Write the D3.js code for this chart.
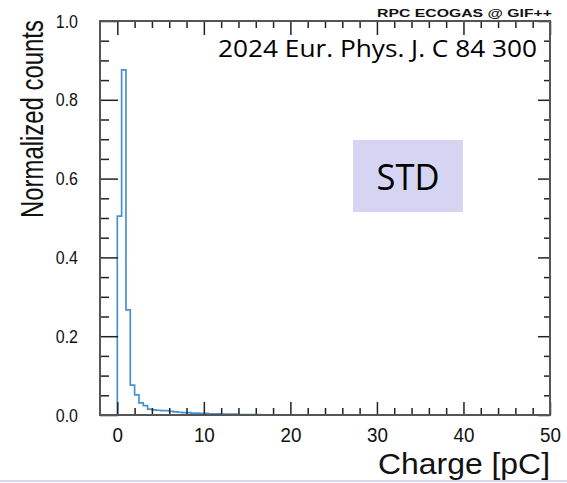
<!DOCTYPE html>
<html>
<head>
<meta charset="utf-8">
<script src="https://cdn.jsdelivr.net/npm/d3@7"></script>
<style>
  body { margin: 0; background: #fff; }
  svg { display: block; }
</style>
</head>
<body>
<svg id="chart" width="567" height="483"></svg>
<script>
/* histogram: left bin edges (pC) and normalized counts, bin width 0.5 pC */
var BIN_WIDTH = 0.5;
var BIN_EDGES = [0, 0.5, 1, 1.5, 2, 2.5, 3, 3.5, 4, 4.5, 5, 5.5, 6, 6.5, 7, 7.5, 8, 8.5, 9, 9.5,
                 10, 10.5, 11, 11.5, 12, 12.5, 13, 13.5, 14, 14.5, 15, 15.5, 16];
var COUNTS = [0.505, 0.876, 0.267, 0.076, 0.051, 0.031, 0.024, 0.015, 0.013, 0.012,
              0.011, 0.011, 0.009, 0.008, 0.007, 0.006, 0.006, 0.005, 0.005, 0.004,
              0.004, 0.003, 0.003, 0.003, 0.002, 0.002, 0.002, 0.002, 0.001, 0.001, 0.001, 0.001, 0.001];

var X_MAJOR = [0, 10, 20, 30, 40, 50];
var X_MINOR = [2, 4, 6, 8, 12, 14, 16, 18, 22, 24, 26, 28, 32, 34, 36, 38, 42, 44, 46, 48];
var Y_MAJOR = [0, 0.2, 0.4, 0.6, 0.8, 1.0];
var Y_MINOR = [0.05, 0.1, 0.15, 0.25, 0.3, 0.35, 0.45, 0.5, 0.55, 0.65, 0.7, 0.75, 0.85, 0.9, 0.95];

var X_TITLE = "Charge [pC]";
var Y_TITLE = "Normalized counts";
var REF_TEXT = "2024 Eur. Phys. J. C 84 300";
var TAG_TEXT = "RPC ECOGAS @ GIF++";
var BOX_TEXT = "STD";

var svg = d3.select("#chart");
var margin = {top: 21, right: 17, bottom: 68, left: 100};
var width = 567 - margin.left - margin.right;
var height = 483 - margin.top - margin.bottom;
var g = svg.append("g").attr("transform", "translate(" + margin.left + "," + margin.top + ")");

var x = d3.scaleLinear().domain([-2, 50]).range([0, width]);
var y = d3.scaleLinear().domain([0, 1]).range([height, 0]);

/* squeeze a text element horizontally */
function squeeze(sel, f){
    sel.each(function(){
        var len = this.getComputedTextLength();
        d3.select(this).attr("textLength", len * f).attr("lengthAdjust", "spacingAndGlyphs");
    });
}
function fitTo(sel, w){
    sel.attr("textLength", w).attr("lengthAdjust", "spacingAndGlyphs");
}

/* STD box */
g.append("rect")
    .attr("x", 253).attr("y", 119).attr("width", 110).attr("height", 72)
    .attr("fill", "#d5d5f3");
g.append("text")
    .attr("x", 308).attr("y", 169)
    .attr("text-anchor", "middle")
    .style("font-family", "'Open Sans', sans-serif")
    .style("font-size", "36px")
    .attr("fill", "#000")
    .text(BOX_TEXT)
    .call(fitTo, 63);

/* histogram */
var points = [[0, 0]];
BIN_EDGES.forEach(function(e, i){ points.push([e, COUNTS[i]]); });
points.push([BIN_EDGES[BIN_EDGES.length - 1] + BIN_WIDTH, 0]);

var step = d3.line()
    .curve(d3.curveStepAfter)
    .x(function(d){ return x(d[0]); })
    .y(function(d){ return y(d[1]); });

g.append("path")
    .attr("d", step(points))
    .attr("fill", "none")
    .attr("stroke", "#4a92cf")
    .attr("stroke-width", 1.7);

/* axes */
function styleAxis(a){
    a.select(".domain").remove();
    a.selectAll(".tick line").attr("stroke", "#222").attr("stroke-width", 1.5);
}

var xb = g.append("g").attr("transform", "translate(0," + height + ")")
    .call(d3.axisBottom(x).tickValues(X_MAJOR).tickSize(-13).tickPadding(12.5).tickFormat(d3.format("d")));
xb.call(styleAxis);
xb.selectAll("text").style("font-family", "'Liberation Sans', Arial, sans-serif").style("font-size", "20px").attr("fill", "#111").call(squeeze, 0.94);
g.append("g").attr("transform", "translate(0," + height + ")")
    .call(d3.axisBottom(x).tickValues(X_MINOR).tickSize(-7).tickFormat(""))
    .call(styleAxis);

g.append("g")
    .call(d3.axisTop(x).tickValues(X_MAJOR).tickSize(-14).tickFormat(""))
    .call(styleAxis);
g.append("g")
    .call(d3.axisTop(x).tickValues(X_MINOR).tickSize(-7).tickFormat(""))
    .call(styleAxis);

var yl = g.append("g")
    .call(d3.axisLeft(y).tickValues(Y_MAJOR).tickSize(-18).tickPadding(22).tickFormat(d3.format(".1f")));
yl.call(styleAxis);
yl.selectAll("text").style("font-family", "'Liberation Sans', Arial, sans-serif").style("font-size", "19px").attr("fill", "#111").call(squeeze, 0.84);
g.append("g")
    .call(d3.axisLeft(y).tickValues(Y_MINOR).tickSize(-9).tickFormat(""))
    .call(styleAxis);

g.append("g").attr("transform", "translate(" + width + ",0)")
    .call(d3.axisRight(y).tickValues(Y_MAJOR).tickSize(-12).tickFormat(""))
    .call(styleAxis);
g.append("g").attr("transform", "translate(" + width + ",0)")
    .call(d3.axisRight(y).tickValues(Y_MINOR).tickSize(-6).tickFormat(""))
    .call(styleAxis);

/* frame */
g.append("rect")
    .attr("width", width).attr("height", height)
    .attr("fill", "none")
    .attr("stroke", "#555")
    .attr("stroke-width", 2);

/* titles: scaled with transforms so their boxes stay true */
var xt = svg.append("text")
    .attr("text-anchor", "end")
    .style("font-family", "'Liberation Sans', Arial, sans-serif")
    .style("font-size", "30px")
    .attr("fill", "#111")
    .text(X_TITLE);
var xtLen = xt.node().getComputedTextLength();
xt.attr("transform", "translate(550,474) scale(" + (172 / xtLen) + ",1)");

var yt = svg.append("text")
    .attr("text-anchor", "middle")
    .style("font-family", "'Liberation Sans', Arial, sans-serif")
    .style("font-size", "32px")
    .attr("fill", "#111")
    .text(Y_TITLE);
var ytLen = yt.node().getComputedTextLength();
yt.attr("transform", "translate(43,119) rotate(-90) scale(" + (198 / ytLen) + ",1)");

svg.append("text")
    .attr("x", 218).attr("y", 57)
    .style("font-family", "'Open Sans', sans-serif")
    .style("font-size", "24px")
    .attr("fill", "#000")
    .text(REF_TEXT)
    .call(fitTo, 319);

svg.append("text")
    .attr("x", 552).attr("y", 17)
    .attr("text-anchor", "end")
    .style("font-family", "'Liberation Sans', Arial, sans-serif")
    .style("font-size", "10px")
    .style("font-weight", "bold")
    .attr("fill", "#111")
    .text(TAG_TEXT)
    .call(fitTo, 175);

/* bottom rule */
svg.append("line")
    .attr("x1", 0).attr("x2", 567)
    .attr("y1", 481).attr("y2", 481)
    .attr("stroke", "#c9c9ee")
    .attr("stroke-width", 1.5);
</script>
</body>
</html>
